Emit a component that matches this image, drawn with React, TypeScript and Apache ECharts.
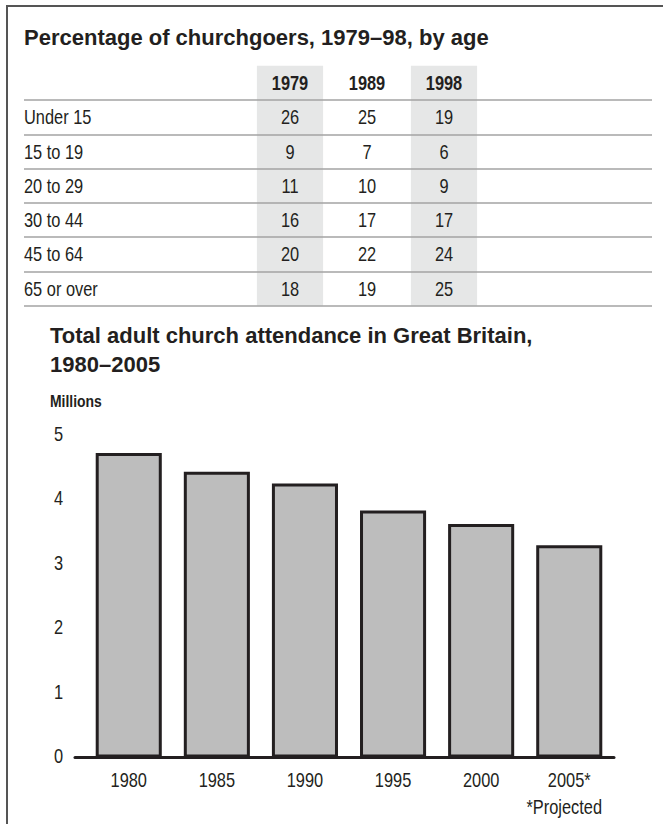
import React, { useEffect, useRef } from "react";
import * as echarts from "echarts";

// Table: share of churchgoers by age group (%)
const ageGroups = ["Under 15", "15 to 19", "20 to 29", "30 to 44", "45 to 64", "65 or over"];
const surveyYears = ["1979", "1989", "1998"];
const share1979 = [26, 9, 11, 16, 20, 18];
const share1989 = [25, 7, 10, 17, 22, 19];
const share1998 = [19, 6, 9, 17, 24, 25];
const highlightedYears = ["1979", "1998"];

// Bar chart: total adult church attendance (millions)
const attendanceYears = ["1980", "1985", "1990", "1995", "2000", "2005*"];
const attendanceMillions = [4.72, 4.43, 4.25, 3.83, 3.62, 3.29];
const attendanceTicks = [0, 1, 2, 3, 4, 5];

const INK = "#231f20";
const RULE = "#a3a3a3";
const SHADE = "#e6e7e7";
const BAR_FILL = "#bdbdbd";
const FRAME = "#555555";
const SANS = "'Liberation Sans', Arial, sans-serif";
// condensed lettering: regular sans squeezed horizontally
const NARROW_SCALE = 0.82;

const sharesByYear = [share1979, share1989, share1998];

function narrowText(x: number, y: number, text: string, align: string, bold = false, size = 20) {
  return {
    type: "text",
    x,
    y,
    scaleX: NARROW_SCALE,
    style: {
      text,
      align,
      verticalAlign: "middle",
      fontSize: size,
      fontWeight: bold ? "bold" : "normal",
      fontFamily: SANS,
      fill: INK,
    },
  };
}

function buildOption(): echarts.EChartsOption {
  const cells = ageGroups.flatMap((age, r) =>
    surveyYears.map((yr, c) => [yr, age, sharesByYear[c][r]])
  );
  const noGridBounds = { containLabel: false, outerBoundsMode: "none" } as any;

  return {
    animation: false,
    backgroundColor: "#ffffff",
    grid: [
      { left: 24, top: 100, width: 628, height: 205.7, ...noGridBounds },
      { left: 251.5, top: 100, width: 231, height: 205.7, ...noGridBounds },
      { left: 84.7, top: 435, width: 528.6, height: 322.5, ...noGridBounds },
      { left: 75, top: 435, width: 539, height: 322.5, ...noGridBounds },
    ],
    xAxis: [
      { gridIndex: 0, type: "value", show: false, min: 0, max: 1 },
      { gridIndex: 1, type: "category", data: surveyYears, position: "top", show: false },
      { gridIndex: 2, type: "category", data: attendanceYears, show: false },
      {
        gridIndex: 3,
        type: "value",
        min: 0,
        max: 1,
        axisLine: { show: true, lineStyle: { color: INK, width: 3 } },
        axisTick: { show: false },
        axisLabel: { show: false },
        splitLine: { show: false },
      },
    ],
    yAxis: [
      {
        gridIndex: 0,
        type: "category",
        data: ageGroups,
        inverse: true,
        z: 3,
        axisLine: { show: false },
        axisTick: { show: false },
        axisLabel: { show: false },
        splitLine: { show: true, interval: 0, lineStyle: { color: RULE, width: 1.5 } },
      },
      { gridIndex: 1, type: "category", data: ageGroups, inverse: true, show: false },
      {
        gridIndex: 2,
        type: "value",
        min: attendanceTicks[0],
        max: attendanceTicks[attendanceTicks.length - 1],
        interval: 1,
        show: false,
      },
      {
        gridIndex: 3,
        type: "value",
        min: attendanceTicks[0],
        max: attendanceTicks[attendanceTicks.length - 1],
        interval: 1,
        show: false,
      },
    ],
    series: [
      {
        // shaded bands behind the highlighted survey years, header row included
        type: "custom",
        xAxisIndex: 1,
        yAxisIndex: 1,
        z: 1,
        silent: true,
        clip: false,
        data: highlightedYears.map((yr) => [yr, ageGroups[0]]),
        renderItem: (_params: any, api: any) => {
          const col = api.value(0);
          const top = api.coord([col, 0]);
          const bottom = api.coord([col, ageGroups.length - 1]);
          const size = api.size([1, 1]);
          const bandW = size[0] * 0.86;
          const rowH = size[1];
          const y0 = top[1] - rowH / 2 - rowH;
          const y1 = bottom[1] + rowH / 2;
          return {
            type: "rect",
            shape: { x: top[0] - bandW / 2, y: y0, width: bandW, height: y1 - y0 },
            style: { fill: SHADE },
          };
        },
      } as any,
      {
        // column headings, one row above the first age group
        type: "custom",
        xAxisIndex: 1,
        yAxisIndex: 1,
        z: 4,
        silent: true,
        clip: false,
        data: surveyYears.map((yr) => [yr, ageGroups[0]]),
        renderItem: (params: any, api: any) => {
          const pt = api.coord([api.value(0), 0]);
          const rowH = api.size([1, 1])[1];
          return narrowText(pt[0], pt[1] - rowH, surveyYears[params.dataIndex], "center", true);
        },
      } as any,
      {
        // row labels on the left of the table
        type: "custom",
        xAxisIndex: 0,
        yAxisIndex: 0,
        z: 4,
        silent: true,
        data: ageGroups.map((age) => [0, age]),
        renderItem: (params: any, api: any) => {
          const pt = api.coord([0, api.value(1)]);
          return narrowText(pt[0], pt[1], ageGroups[params.dataIndex], "left");
        },
      } as any,
      {
        // percentage cells
        type: "custom",
        xAxisIndex: 1,
        yAxisIndex: 1,
        z: 4,
        silent: true,
        data: cells,
        renderItem: (_params: any, api: any) => {
          const pt = api.coord([api.value(0), api.value(1)]);
          return narrowText(pt[0], pt[1], String(api.value(2)), "center");
        },
      } as any,
      {
        type: "bar",
        xAxisIndex: 2,
        yAxisIndex: 2,
        data: attendanceMillions,
        barCategoryGap: "25%",
        silent: true,
        itemStyle: { color: BAR_FILL, borderColor: INK, borderWidth: 3 },
      },
      {
        // value-axis tick labels
        type: "custom",
        xAxisIndex: 3,
        yAxisIndex: 3,
        z: 4,
        silent: true,
        clip: false,
        data: attendanceTicks.map((t) => [0, t]),
        renderItem: (_params: any, api: any) => {
          const pt = api.coord([0, api.value(1)]);
          return narrowText(pt[0] - 12, pt[1] - 1.5, String(api.value(1)), "right");
        },
      } as any,
      {
        // category labels under the bars
        type: "custom",
        xAxisIndex: 2,
        yAxisIndex: 2,
        z: 4,
        silent: true,
        clip: false,
        data: attendanceYears.map((yr) => [yr, 0]),
        renderItem: (params: any, api: any) => {
          const pt = api.coord([api.value(0), 0]);
          return narrowText(pt[0], pt[1] + 22, attendanceYears[params.dataIndex], "center");
        },
      } as any,
    ],
    graphic: [
      { type: "line", shape: { x1: 6, y1: 6, x2: 663, y2: 6 }, style: { stroke: FRAME, lineWidth: 2 } },
      { type: "line", shape: { x1: 7, y1: 5, x2: 7, y2: 824 }, style: { stroke: FRAME, lineWidth: 2 } },
      {
        type: "text",
        x: 24,
        y: 37,
        style: {
          text: "Percentage of churchgoers, 1979–98, by age",
          fontSize: 22,
          fontWeight: "bold",
          fontFamily: SANS,
          fill: INK,
          verticalAlign: "middle",
          align: "left",
        },
      },
      {
        type: "text",
        x: 50,
        y: 350,
        style: {
          text: "Total adult church attendance in Great Britain,\n1980–2005",
          fontSize: 22,
          lineHeight: 29,
          fontWeight: "bold",
          fontFamily: SANS,
          fill: INK,
          verticalAlign: "middle",
          align: "left",
        },
      },
      narrowText(50, 401, "Millions", "left", true, 17) as any,
      narrowText(602, 807, "*Projected", "right") as any,
    ],
  };
}

export default function App() {
  const ref = useRef<HTMLDivElement>(null);

  useEffect(() => {
    if (!ref.current) return;
    const chart = echarts.init(ref.current, null, { renderer: "svg" });
    chart.setOption(buildOption());
    return () => chart.dispose();
  }, []);

  return (
    <div
      ref={ref}
      style={{ position: "absolute", left: 0, top: 0, width: 663, height: 824, background: "#ffffff" }}
    />
  );
}
